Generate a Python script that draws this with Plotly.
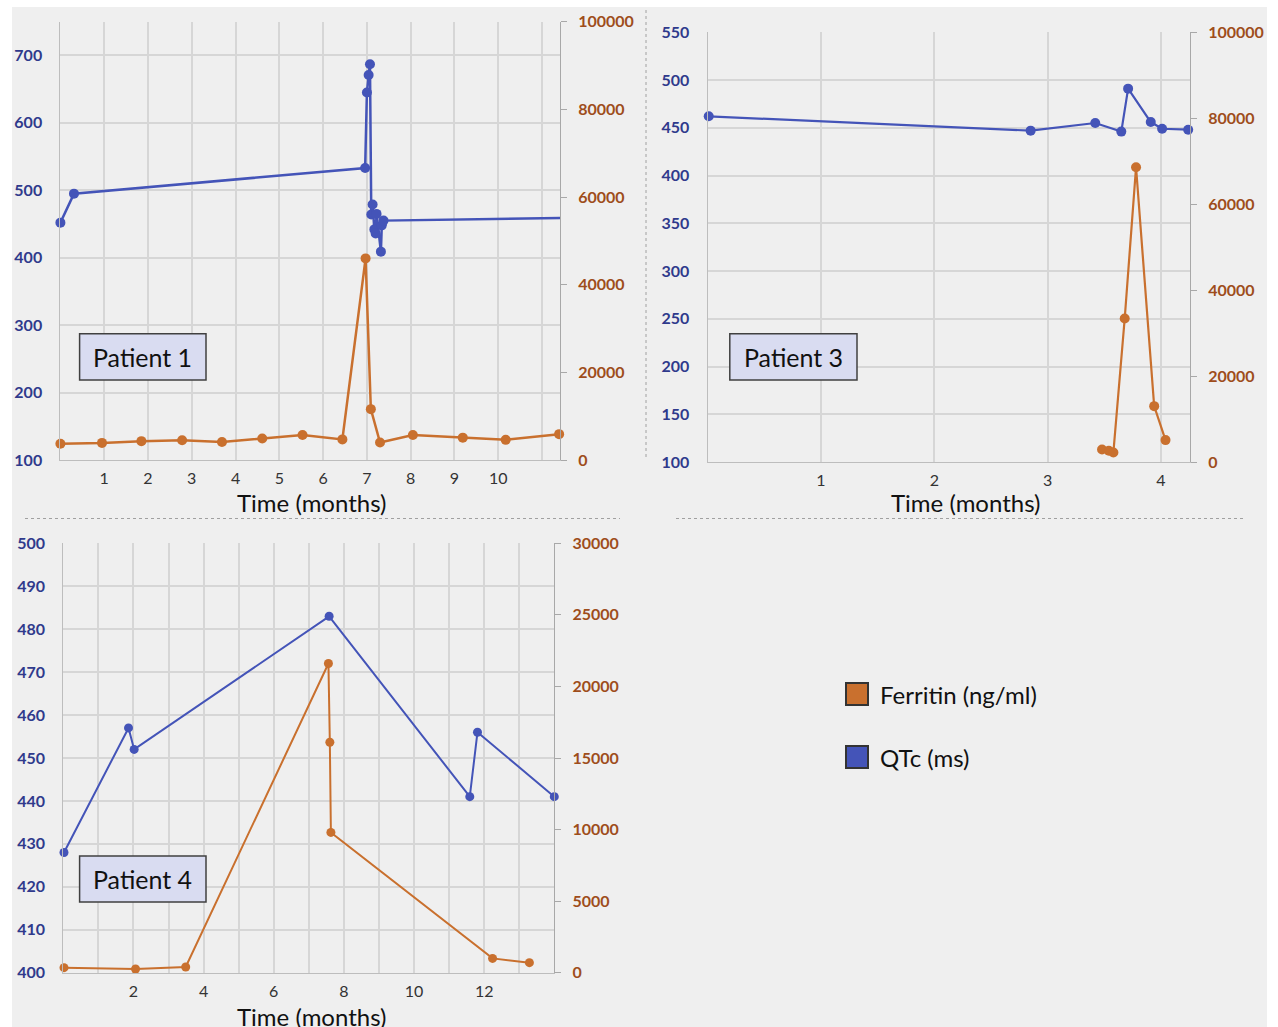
import plotly.graph_objects as go

# ---------------- data ----------------
# Patient 1
p1_qtc_t = [0.0, 0.31, 6.96, 7.0, 7.04, 7.07, 7.10, 7.13, 7.17, 7.20, 7.22, 7.32, 7.34, 7.38, 11.7]
p1_qtc = [452, 495, 533, 645, 671, 687, 464, 479, 442, 436, 465, 409, 448, 455, 459]
p1_fer_t = [0.0, 0.95, 1.85, 2.78, 3.69, 4.61, 5.53, 6.44, 6.97, 7.09, 7.30, 8.05, 9.19, 10.17, 11.39]
p1_fer = [3700, 3900, 4300, 4500, 4100, 4900, 5700, 4700, 46000, 11600, 4000, 5700, 5100, 4600, 5900]

# Patient 3
p3_qtc_t = [0.01, 2.85, 3.42, 3.65, 3.71, 3.91, 4.01, 4.24]
p3_qtc = [462, 447, 455, 446, 491, 456, 449, 448]
p3_fer_t = [3.48, 3.54, 3.58, 3.68, 3.78, 3.94, 4.04]
p3_fer = [2900, 2600, 2200, 33400, 68600, 13000, 5100]

# Patient 4
p4_qtc_t = [0.02, 1.86, 2.02, 7.58, 11.59, 11.81, 14.0]
p4_qtc = [428, 457, 452, 483, 441, 456, 441]
p4_fer_t = [0.02, 2.06, 3.49, 7.56, 7.60, 7.63, 12.24, 13.29]
p4_fer = [350, 260, 400, 21600, 16100, 9800, 1000, 700]

# tick labels
p1_xtickvals = list(range(0, 12))
p1_xticktext = [""] + [str(i) for i in range(1, 11)] + [""]
p3_xtickvals = list(range(0, 5))
p3_xticktext = ["", "1", "2", "3", "4"]
p4_xtickvals = list(range(0, 15))
p4_xticktext = [str(i) if (i % 2 == 0 and 0 < i < 14) else "" for i in range(0, 15)]

patient_labels = ["Patient 1", "Patient 3", "Patient 4"]
legend_labels = ["Ferritin (ng/ml)", "QTc (ms)"]
x_title = "Time (months)"

# ---------------- style ----------------
W, H = 1278, 1027
FONT = "Lato"
BLUE = "#4454b8"
ORANGE = "#c9702e"
NAVY = "#2f3a8c"
BROWN = "#9e4d1b"
GRID = "#d6d6d6"
AX = "#bdbdbd"
AX2 = "#a8a8a8"
BG = "#efefef"


def fx(px):
    return px / W


def fy(py):
    return 1 - py / H


fig = go.Figure()


def add_pair(xa, ya_l, ya_r, qt, qv, ft, fv, qsize=9, msize=9, lw=2):
    fig.add_trace(go.Scatter(x=qt, y=qv, xaxis=xa, yaxis=ya_l, mode="lines+markers",
                             line=dict(color=BLUE, width=lw),
                             marker=dict(color=BLUE, size=qsize, opacity=1,
                                         line=dict(width=0)),
                             cliponaxis=False, showlegend=False, name="QTc (ms)"))
    fig.add_trace(go.Scatter(x=ft, y=fv, xaxis=xa, yaxis=ya_r, mode="lines+markers",
                             line=dict(color=ORANGE, width=lw),
                             marker=dict(color=ORANGE, size=msize, opacity=1,
                                         line=dict(width=0)),
                             cliponaxis=False, showlegend=False, name="Ferritin (ng/ml)"))


add_pair("x", "y", "y2", p1_qtc_t, p1_qtc, p1_fer_t, p1_fer,
         qsize=[10] * (len(p1_qtc) - 1) + [0], msize=10, lw=2.5)
add_pair("x2", "y3", "y4", p3_qtc_t, p3_qtc, p3_fer_t, p3_fer, qsize=10, msize=10, lw=2.2)
add_pair("x3", "y5", "y6", p4_qtc_t, p4_qtc, p4_fer_t, p4_fer, qsize=9, msize=9, lw=2)


def xax(dom, rng, tv, tt, anchor):
    return dict(domain=dom, range=rng, tickvals=tv, ticktext=tt, anchor=anchor,
                showgrid=True, gridcolor=GRID, gridwidth=1.5, showline=True, linecolor=AX,
                linewidth=1, zeroline=False, ticks="", ticklabelstandoff=4, automargin=False,
                tickfont=dict(family=FONT, size=16, color="#333333"))


def yleft(dom, rng, dtick, anchor):
    return dict(domain=dom, range=rng, dtick=dtick, tick0=rng[0], anchor=anchor,
                showgrid=True, gridcolor=GRID, gridwidth=1.5, showline=True, linecolor=AX,
                linewidth=1, zeroline=False, ticks="", ticklabelstandoff=14, automargin=False,
                tickfont=dict(family=FONT, size=16, color=NAVY, weight="bold"))


def yright(over, rng, dtick, anchor):
    return dict(overlaying=over, side="right", range=rng, dtick=dtick, tick0=0,
                anchor=anchor, tickformat="d", showgrid=False, showline=True,
                linecolor=AX2, linewidth=1, zeroline=False, ticks="outside", ticklen=6,
                tickcolor=AX2, ticklabelstandoff=8, automargin=False,
                tickfont=dict(family=FONT, size=16, color=BROWN, weight="bold"))


layout = dict(
    width=W, height=H, autosize=False,
    margin=dict(l=0, r=0, t=0, b=0, pad=0, autoexpand=False),
    paper_bgcolor="white", plot_bgcolor="rgba(0,0,0,0)",
    showlegend=False, font=dict(family=FONT),
    xaxis=xax([fx(60.4), fx(560)], [0, 11.41], p1_xtickvals, p1_xticktext, "y"),
    yaxis=yleft([fy(460), fy(21.7)], [100, 750], 100, "x"),
    yaxis2=yright("y", [0, 100000], 20000, "x"),
    xaxis2=xax([fx(707.6), fx(1190)], [0, 4.256], p3_xtickvals, p3_xticktext, "y3"),
    yaxis3=yleft([fy(462), fy(32.3)], [100, 550], 50, "x2"),
    yaxis4=yright("y3", [0, 100000], 20000, "x2"),
    xaxis3=xax([fx(63.3), fx(554.3)], [0, 14], p4_xtickvals, p4_xticktext, "y5"),
    yaxis5=yleft([fy(972.7), fy(543.3)], [400, 500], 10, "x3"),
    yaxis6=yright("y5", [0, 30000], 5000, "x3"),
)
fig.update_layout(**layout)

shapes = []
# gray page background
shapes.append(dict(type="rect", xref="paper", yref="paper", x0=fx(12), x1=fx(1267),
                   y0=fy(1027), y1=fy(7), fillcolor=BG, line=dict(width=0), layer="below"))
# dotted separators
shapes.append(dict(type="line", xref="paper", yref="paper", x0=fx(646), x1=fx(646),
                   y0=fy(10), y1=fy(460), line=dict(color="#a0a0a0", width=1, dash="dot")))
shapes.append(dict(type="line", xref="paper", yref="paper", x0=fx(25), x1=fx(620),
                   y0=fy(518.5), y1=fy(518.5), line=dict(color="#a0a0a0", width=1, dash="dot")))
shapes.append(dict(type="line", xref="paper", yref="paper", x0=fx(676), x1=fx(1245),
                   y0=fy(518.5), y1=fy(518.5), line=dict(color="#a0a0a0", width=1, dash="dot")))

# patient label boxes
boxes = [(79.6, 206, 333.7, 380), (729.8, 857, 333.7, 380), (79.6, 206, 856, 902)]
annotations = []
for (bx0, bx1, by0, by1), lab in zip(boxes, patient_labels):
    shapes.append(dict(type="rect", xref="paper", yref="paper", x0=fx(bx0), x1=fx(bx1),
                       y0=fy(by1), y1=fy(by0), fillcolor="#d9dcf1",
                       line=dict(color="#404040", width=1.5)))
    annotations.append(dict(xref="paper", yref="paper", x=fx((bx0 + bx1) / 2),
                            y=fy((by0 + by1) / 2), text=lab, showarrow=False,
                            xanchor="center", yanchor="middle",
                            font=dict(family=FONT, size=25, color="#111111")))

# axis titles
for cx, cy in [(311.5, 502), (965, 502), (311.5, 1016.5)]:
    annotations.append(dict(xref="paper", yref="paper", x=fx(cx), y=fy(cy), text=x_title,
                            showarrow=False, xanchor="center", yanchor="middle",
                            font=dict(family=FONT, size=24, color="#111111")))

# legend
for (sy, col), lab in zip([(694, ORANGE), (757, BLUE)], legend_labels):
    shapes.append(dict(type="rect", xref="paper", yref="paper", x0=fx(846), x1=fx(868),
                       y0=fy(sy + 11), y1=fy(sy - 11), fillcolor=col,
                       line=dict(color="#333333", width=2)))
    annotations.append(dict(xref="paper", yref="paper", x=fx(878), y=fy(sy), text=lab,
                            showarrow=False, xanchor="left", yanchor="middle",
                            font=dict(family=FONT, size=24, color="#111111")))

fig.update_layout(shapes=shapes, annotations=annotations)

fig.write_html("out.html", config={"displayModeBar": False},
               post_script="document.body.style.margin='0px';")
